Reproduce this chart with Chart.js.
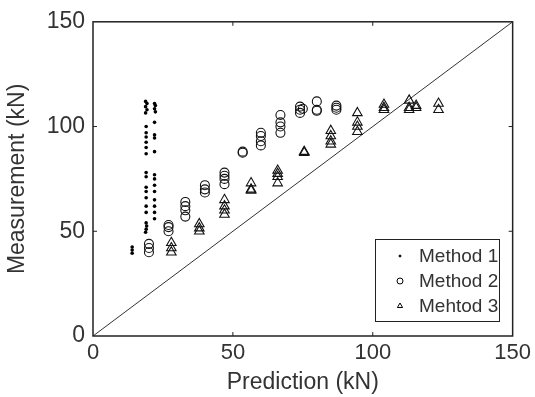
<!DOCTYPE html>
<html>
<head>
<meta charset="utf-8">
<script src="https://cdn.jsdelivr.net/npm/chart.js@4/dist/chart.umd.min.js"></script>
<style>
  body { margin: 0; background: #fff; }
  canvas { display: block; }
</style>
</head>
<body>
<canvas id="scatter-chart" width="535" height="397"></canvas>
<script>
// Method 1 (dots)
const m1X = [14, 14, 14,
  18.8, 19.3, 18.8, 19.3, 18.8, 19, 19, 19, 19, 19, 19, 19, 19, 19, 19, 19, 19, 19, 19,
  18.8, 19, 19.2,
  22, 22.3, 22, 22.3, 22, 22, 22, 22, 22, 22, 22, 22, 22, 22, 22, 22];
const m1Y = [39.5, 41, 42.5,
  112, 111, 109.5, 108, 106.5, 100, 97, 95, 92.5, 90, 87, 78, 76, 71, 69, 66, 62, 59, 54,
  49.5, 51, 52.5,
  111, 110, 108.5, 107, 102, 96, 94.5, 88, 77, 75, 72, 69, 65, 62, 59, 56];

// Method 2 (circles)
const m2X = [20, 20, 20, 27, 27, 27, 33, 33, 33, 33, 40, 40, 40, 47, 47, 47, 47,
  53.5, 53.5, 60, 60, 60, 60, 67, 67, 67, 67, 74, 74, 74, 75, 80, 80, 80, 87, 87, 87];
const m2Y = [40, 42, 44, 50, 52, 53, 57, 60, 62, 64, 68.5, 70, 72, 72.5, 75, 76.5, 78,
  87.5, 88, 91, 93, 95.5, 97, 97, 100, 102, 105.5, 106.5, 108, 109.5, 108.5, 112, 108, 107.5, 110, 108, 109];

// Method 3 (triangles)
const m3X = [28, 28, 28, 38, 38, 38, 47, 47, 47, 47, 56.5, 56.5, 56.5, 66, 66, 66, 66,
  75.5, 75.5, 85, 85, 85, 85, 94.5, 94.5, 94.5, 94.5, 104, 104, 104, 113, 113, 113, 115.5, 115.5, 123.5, 123.5];
const m3Y = [40, 42, 44.5, 50, 51.5, 53.5, 58, 60, 62, 65, 69.5, 70, 73, 73, 76, 77.5, 79,
  87.5, 88, 91.5, 93, 95.5, 98, 97.5, 100, 102, 106.5, 108, 109, 110.5, 108, 109, 112.5, 110, 109, 108, 111];

// 1:1 reference line
const lineX = [0, 150];
const lineY = [0, 150];

const axisTicks = [0, 50, 100, 150];
const textColor = "#333";
const fontFamily = "'Liberation Sans', Arial, sans-serif";

function toPoints(xs, ys)
{
  return xs.map((x, i) => ({ x: x, y: ys[i] }));
}

// Box round the plot area, inward ticks on all four sides, and the legend inside the plot
const framePlugin = {
  id: "frame",
  afterDraw(chart)
  {
    const ctx = chart.ctx;
    const area = chart.chartArea;
    const xs = chart.scales.x;
    const ys = chart.scales.y;
    ctx.save();
    ctx.strokeStyle = "#222";
    ctx.lineWidth = 1.5;
    ctx.strokeRect(area.left, area.top, area.right - area.left, area.bottom - area.top);

    ctx.lineWidth = 1;
    const tickLen = 4;
    axisTicks.slice(1, 3).forEach(v =>
    {
      const px = xs.getPixelForValue(v);
      const py = ys.getPixelForValue(v);
      ctx.beginPath();
      ctx.moveTo(px, area.bottom); ctx.lineTo(px, area.bottom - tickLen);
      ctx.moveTo(px, area.top); ctx.lineTo(px, area.top + tickLen);
      ctx.moveTo(area.left, py); ctx.lineTo(area.left + tickLen, py);
      ctx.moveTo(area.right, py); ctx.lineTo(area.right - tickLen, py);
      ctx.stroke();
    });

    // legend
    const boxL = 375, boxT = 239, boxW = 124, boxH = 82;
    ctx.fillStyle = "#fff";
    ctx.fillRect(boxL, boxT, boxW, boxH);
    ctx.strokeStyle = "#222";
    ctx.lineWidth = 1;
    ctx.strokeRect(boxL + 0.5, boxT + 0.5, boxW, boxH);

    const entries = chart.data.datasets.filter(d => d.inLegend);
    ctx.font = "19px " + fontFamily;
    ctx.textBaseline = "middle";
    entries.forEach((d, i) =>
    {
      const cy = boxT + 17 + i * 25;
      const isDot = d.pointRadius < 2.5;
      ctx.fillStyle = isDot ? "#000" : "#fff";
      ctx.strokeStyle = "#000";
      Chart.helpers.drawPoint(ctx, {
        pointStyle: d.pointStyle,
        radius: isDot ? 1 : 3,
        rotation: 0,
        borderWidth: 1
      }, 400, cy);
      ctx.fillStyle = textColor;
      ctx.fillText(d.label, 419, cy + 1);
    });
    ctx.restore();
  }
};

const ctx = document.getElementById("scatter-chart");

new Chart(ctx, {
  type: "scatter",
  data: {
    datasets: [
      {
        label: "Method 1",
        inLegend: true,
        data: toPoints(m1X, m1Y),
        pointStyle: "circle",
        pointRadius: 1.8,
        backgroundColor: "#000",
        borderColor: "#000",
        borderWidth: 0
      },
      {
        label: "Method 2",
        inLegend: true,
        data: toPoints(m2X, m2Y),
        pointStyle: "circle",
        pointRadius: 4.5,
        backgroundColor: "rgba(255,255,255,0)",
        borderColor: "#111",
        borderWidth: 1.1
      },
      {
        label: "Mehtod 3",
        inLegend: true,
        data: toPoints(m3X, m3Y),
        pointStyle: "triangle",
        pointRadius: 5.5,
        backgroundColor: "rgba(255,255,255,0)",
        borderColor: "#111",
        borderWidth: 1.1
      },
      {
        label: "1:1",
        type: "line",
        data: toPoints(lineX, lineY),
        showLine: true,
        pointRadius: 0,
        borderColor: "#333",
        borderWidth: 1
      }
    ]
  },
  options: {
    responsive: false,
    animation: false,
    layout: { padding: { top: 19, right: 21, left: 0, bottom: 0 } },
    plugins: {
      legend: { display: false },
      tooltip: { enabled: false }
    },
    scales: {
      x: {
        type: "linear",
        min: 0,
        max: 150,
        afterBuildTicks: scale => { scale.ticks = axisTicks.map(v => ({ value: v })); },
        afterFit: scale => { scale.height = 61; },
        grid: { display: false, drawTicks: false },
        border: { display: false },
        ticks: {
          color: textColor,
          padding: 4,
          font: { family: fontFamily, size: 22 }
        },
        title: {
          display: true,
          text: "Prediction (kN)",
          color: textColor,
          padding: { top: 0, bottom: 1 },
          font: { family: fontFamily, size: 23 }
        }
      },
      y: {
        type: "linear",
        min: 0,
        max: 150,
        afterBuildTicks: scale => { scale.ticks = axisTicks.map(v => ({ value: v })); },
        afterFit: scale => { scale.width = 93; },
        grid: { display: false, drawTicks: false },
        border: { display: false },
        ticks: {
          color: textColor,
          padding: 8,
          font: { family: fontFamily, size: 23 }
        },
        title: {
          display: true,
          text: "Measurement (kN)",
          color: textColor,
          padding: { top: 4, bottom: 0 },
          font: { family: fontFamily, size: 23 }
        }
      }
    }
  },
  plugins: [framePlugin]
});
</script>
</body>
</html>
